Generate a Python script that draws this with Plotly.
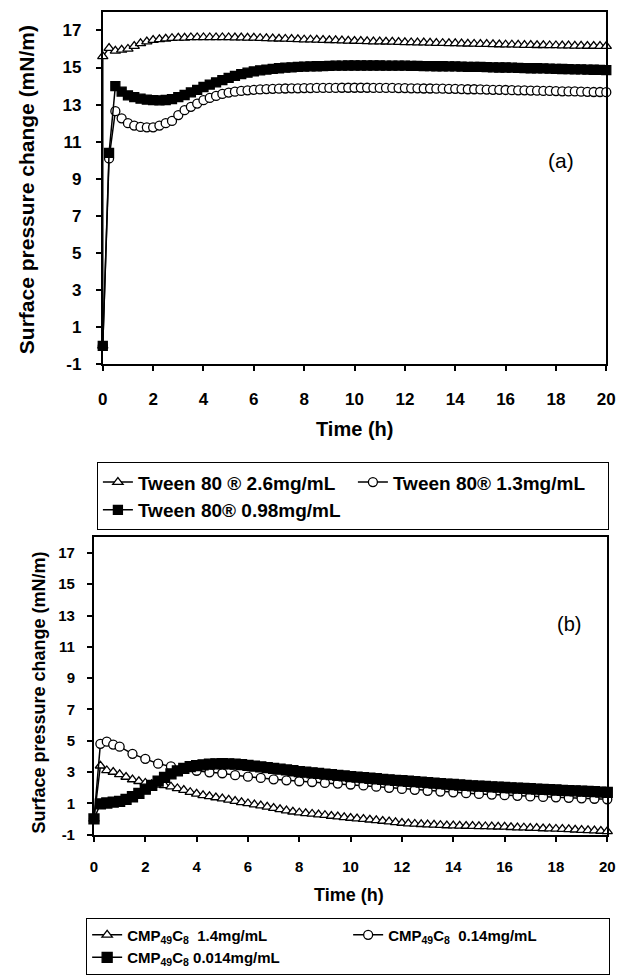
import plotly.graph_objects as go

# ---------------- data ----------------
# sampling grid (h), 15-minute intervals
T_Q = [0, 0.25, 0.5, 0.75, 1, 1.25, 1.5, 1.75, 2, 2.25, 2.5, 2.75, 3, 3.25, 3.5, 3.75, 4,
       4.25, 4.5, 4.75, 5, 5.25, 5.5, 5.75, 6,
       6.25, 6.5, 6.75, 7, 7.25, 7.5, 7.75, 8,
       8.25, 8.5, 8.75, 9, 9.25, 9.5, 9.75, 10,
       10.25, 10.5, 10.75, 11, 11.25, 11.5, 11.75, 12,
       12.25, 12.5, 12.75, 13, 13.25, 13.5, 13.75, 14,
       14.25, 14.5, 14.75, 15, 15.25, 15.5, 15.75, 16,
       16.25, 16.5, 16.75, 17, 17.25, 17.5, 17.75, 18,
       18.25, 18.5, 18.75, 19, 19.25, 19.5, 19.75, 20]

# (a) Tween 80 2.6 mg/mL (starts with a 0 reading at t=0)
T_A_TRI = [0] + T_Q
A_TRI = [0,
         15.6, 16.05, 15.9, 15.95, 16.0, 16.15, 16.3, 16.4, 16.48, 16.52, 16.55, 16.58, 16.6, 16.6, 16.62, 16.62, 16.62,
         16.62, 16.62, 16.62, 16.62, 16.61, 16.61, 16.6, 16.6,
         16.58, 16.57, 16.56, 16.55, 16.54, 16.53, 16.52, 16.5,
         16.5, 16.49, 16.48, 16.47, 16.46, 16.45, 16.44, 16.43,
         16.42, 16.41, 16.4, 16.4, 16.39, 16.38, 16.37, 16.36,
         16.35, 16.34, 16.34, 16.33, 16.32, 16.31, 16.3, 16.3,
         16.29, 16.28, 16.27, 16.26, 16.26, 16.25, 16.24, 16.23,
         16.23, 16.22, 16.21, 16.21, 16.2, 16.2, 16.19, 16.19,
         16.18, 16.18, 16.17, 16.17, 16.16, 16.16, 16.15, 16.15]

# (a) Tween 80 1.3 mg/mL
A_CIR = [0, 10.1, 12.65, 12.26, 12.0, 11.87, 11.8, 11.78, 11.78, 11.87, 12.0, 12.12, 12.44, 12.7, 12.88, 13.06, 13.24,
         13.36, 13.47, 13.58, 13.65, 13.7, 13.74, 13.77, 13.8,
         13.82, 13.84, 13.85, 13.86, 13.87, 13.88, 13.88, 13.89,
         13.89, 13.9, 13.9, 13.9, 13.9, 13.91, 13.91, 13.91,
         13.91, 13.91, 13.9, 13.9, 13.9, 13.9, 13.89, 13.89,
         13.88, 13.88, 13.87, 13.87, 13.86, 13.86, 13.85, 13.85,
         13.84, 13.83, 13.83, 13.82, 13.81, 13.8, 13.8, 13.79,
         13.78, 13.77, 13.77, 13.76, 13.75, 13.74, 13.74, 13.73,
         13.72, 13.71, 13.71, 13.7, 13.69, 13.68, 13.68, 13.67]

# (a) Tween 80 0.98 mg/mL
A_SQ = [0, 10.4, 14.0, 13.7, 13.5, 13.4, 13.32, 13.27, 13.24, 13.23, 13.25, 13.3, 13.4, 13.52, 13.66, 13.8, 13.95,
        14.08, 14.2, 14.32, 14.44, 14.55, 14.64, 14.72, 14.79,
        14.85, 14.89, 14.93, 14.96, 14.99, 15.01, 15.03, 15.05,
        15.06, 15.07, 15.08, 15.09, 15.1, 15.1, 15.11, 15.11,
        15.11, 15.11, 15.11, 15.11, 15.1, 15.1, 15.1, 15.1,
        15.09, 15.09, 15.08, 15.08, 15.07, 15.07, 15.06, 15.06,
        15.05, 15.04, 15.04, 15.03, 15.02, 15.01, 15.0, 15.0,
        14.99, 14.98, 14.97, 14.96, 14.96, 14.95, 14.94, 14.93,
        14.92, 14.91, 14.9, 14.9, 14.89, 14.88, 14.87, 14.86]

# (b) CMP49C8 1.4 mg/mL
B_TRI = [0, 3.4, 3.1, 3.0, 2.85, 2.68, 2.52, 2.41, 2.3, 2.22, 2.18, 2.14, 2.06, 1.95, 1.84, 1.71, 1.6,
         1.51, 1.44, 1.37, 1.3, 1.22, 1.14, 1.06, 0.99,
         0.92, 0.85, 0.77, 0.69, 0.61, 0.53, 0.46, 0.4,
         0.36, 0.32, 0.28, 0.24, 0.19, 0.15, 0.1, 0.06,
         0.02, -0.01, -0.05, -0.09, -0.13, -0.17, -0.22, -0.26,
         -0.3, -0.32, -0.34, -0.36, -0.38, -0.4, -0.42, -0.43,
         -0.44, -0.45, -0.46, -0.47, -0.48, -0.49, -0.5, -0.51,
         -0.53, -0.55, -0.56, -0.58, -0.59, -0.61, -0.62, -0.64,
         -0.65, -0.67, -0.69, -0.71, -0.73, -0.75, -0.77, -0.79]

# (b) CMP49C8 0.14 mg/mL (30-minute readings after the first hour)
T_B_CIR = [0, 0.25, 0.5, 0.75, 1, 1.5, 2, 2.5, 3, 3.5, 4, 4.5, 5, 5.5, 6, 6.5, 7, 7.5, 8, 8.5, 9, 9.5, 10,
           10.5, 11, 11.5, 12, 12.5, 13, 13.5, 14, 14.5, 15, 15.5, 16, 16.5, 17, 17.5, 18, 18.5, 19, 19.5, 20]
B_CIR = [0, 4.8, 4.94, 4.75, 4.62, 4.16, 3.84, 3.53, 3.36, 3.2, 3.08, 2.98, 2.92, 2.8, 2.7, 2.62, 2.53, 2.47,
         2.41, 2.36, 2.3, 2.26, 2.2, 2.14, 2.06, 1.99, 1.92, 1.86, 1.8, 1.75, 1.7, 1.65, 1.6, 1.56, 1.52,
         1.48, 1.44, 1.41, 1.38, 1.35, 1.32, 1.29, 1.26]

# (b) CMP49C8 0.014 mg/mL
B_SQ = [0, 0.96, 1.02, 1.08, 1.12, 1.25, 1.42, 1.64, 1.9, 2.15, 2.42, 2.66, 2.88, 3.07, 3.23, 3.34, 3.41,
        3.46, 3.5, 3.52, 3.53, 3.52, 3.5, 3.47, 3.43,
        3.38, 3.33, 3.28, 3.23, 3.18, 3.13, 3.08, 3.03,
        2.99, 2.95, 2.91, 2.87, 2.83, 2.79, 2.75, 2.71,
        2.67, 2.64, 2.6, 2.57, 2.53, 2.5, 2.47, 2.44,
        2.41, 2.38, 2.35, 2.32, 2.29, 2.26, 2.23, 2.2,
        2.17, 2.15, 2.12, 2.1, 2.08, 2.05, 2.03, 2.01,
        1.99, 1.97, 1.95, 1.93, 1.91, 1.89, 1.87, 1.85,
        1.83, 1.81, 1.8, 1.78, 1.76, 1.74, 1.72, 1.7]

NAMES_A = ["Tween 80 ® 2.6mg/mL", "Tween 80® 1.3mg/mL", "Tween 80® 0.98mg/mL"]
NBSP = "\u00a0"
NAMES_B = ["CMP<sub>49</sub>C<sub>8</sub>" + NBSP + NBSP + "1.4mg/mL",
           "CMP<sub>49</sub>C<sub>8</sub>" + NBSP + NBSP + "0.14mg/mL",
           "CMP<sub>49</sub>C<sub>8</sub>" + NBSP + "0.014mg/mL"]

Y_TICKS = [-1, 1, 3, 5, 7, 9, 11, 13, 15, 17]
Y_TICKTEXT = ["-1", "1", "3", "5", "7", "9", "11", "13", "15", "17"]

# ---------------- figure ----------------
FONT = "Liberation Sans, Arial, sans-serif"
W, H = 628, 975

fig = go.Figure()

def add(x, y, name, symbol, fill, size, xa, ya, legend):
    fig.add_trace(go.Scatter(
        x=x, y=y, name=name, mode="lines+markers",
        line=dict(color="black", width=1.5),
        marker=dict(symbol=symbol, size=size, color=fill,
                    line=dict(color="black", width=1.3)),
        xaxis=xa, yaxis=ya, legend=legend, cliponaxis=False))

add(T_A_TRI, A_TRI, NAMES_A[0], "triangle-up", "white", 9, "x", "y", "legend")
add(T_Q, A_CIR, NAMES_A[1], "circle", "white", 9, "x", "y", "legend")
add(T_Q, A_SQ, NAMES_A[2], "square", "black", 9, "x", "y", "legend")

add(T_Q, B_TRI, NAMES_B[0], "triangle-up", "white", 9, "x2", "y2", "legend2")
add(T_B_CIR, B_CIR, NAMES_B[1], "circle", "white", 9, "x2", "y2", "legend2")
add(T_Q, B_SQ, NAMES_B[2], "square", "black", 10, "x2", "y2", "legend2")

def px_x(p):
    return p / W

def px_y(p):
    return 1 - p / H

axis_common = dict(showline=True, linecolor="black", linewidth=2, mirror=True,
                   ticks="outside", tickcolor="black", tickwidth=1.5, ticklen=5,
                   showgrid=False, zeroline=False)

fig.update_layout(
    width=W, height=H, autosize=False,
    margin=dict(l=0, r=0, t=0, b=0),
    paper_bgcolor="white", plot_bgcolor="white",
    font=dict(family=FONT, color="black"),
    xaxis=dict(domain=[px_x(100), px_x(615)], anchor="y", range=[0, 20], tick0=0, dtick=2,
               tickfont=dict(size=17, weight=700), ticklabelstandoff=13, **axis_common),
    yaxis=dict(domain=[px_y(369), px_y(12)], anchor="x", range=[-1, 18], tickvals=Y_TICKS,
               ticktext=Y_TICKTEXT,
               tickfont=dict(size=17, weight=700), ticklabelstandoff=11, **axis_common),
    xaxis2=dict(domain=[px_x(91), px_x(616)], anchor="y2", range=[0, 20], tick0=0, dtick=2,
                tickfont=dict(size=15, weight=700), ticklabelstandoff=12, **axis_common),
    yaxis2=dict(domain=[px_y(845), px_y(544)], anchor="x2", range=[-1, 18], tickvals=Y_TICKS,
                ticktext=Y_TICKTEXT,
                tickfont=dict(size=15, weight=700), ticklabelstandoff=9, **axis_common),
    legend=dict(orientation="h", x=px_x(94), y=px_y(468), xanchor="left", yanchor="top",
                bordercolor="black", borderwidth=1, bgcolor="white", entrywidth=210,
                font=dict(size=19, weight=700, family=FONT), traceorder="normal"),
    legend2=dict(orientation="h", x=px_x(83), y=px_y(929), xanchor="left", yanchor="top",
                 bordercolor="black", borderwidth=1, bgcolor="white", entrywidth=216,
                 font=dict(size=15, weight=700, family=FONT), traceorder="normal"),
    showlegend=True,
)

annots = [
    dict(text="Surface pressure change (mN/m)", x=px_x(22), y=px_y(192), textangle=-90,
         font=dict(size=21, weight=700)),
    dict(text="Time (h)", x=px_x(357), y=px_y(434), font=dict(size=20, weight=700)),
    dict(text="Surface pressure change (mN/m)", x=px_x(35), y=px_y(701), textangle=-90,
         font=dict(size=18, weight=700)),
    dict(text="Time (h)", x=px_x(352), y=px_y(906), font=dict(size=18, weight=700)),
]
for a in annots:
    fig.add_annotation(xref="paper", yref="paper", showarrow=False,
                       xanchor="center", yanchor="middle", **a)

fig.add_annotation(text="(a)", x=18.2, y=10, xref="x", yref="y", showarrow=False,
                   font=dict(size=21), xanchor="center", yanchor="middle")
fig.add_annotation(text="(b)", x=18.5, y=12.45, xref="x2", yref="y2", showarrow=False,
                   font=dict(size=20), xanchor="center", yanchor="middle")

fig.write_html("out.html")
